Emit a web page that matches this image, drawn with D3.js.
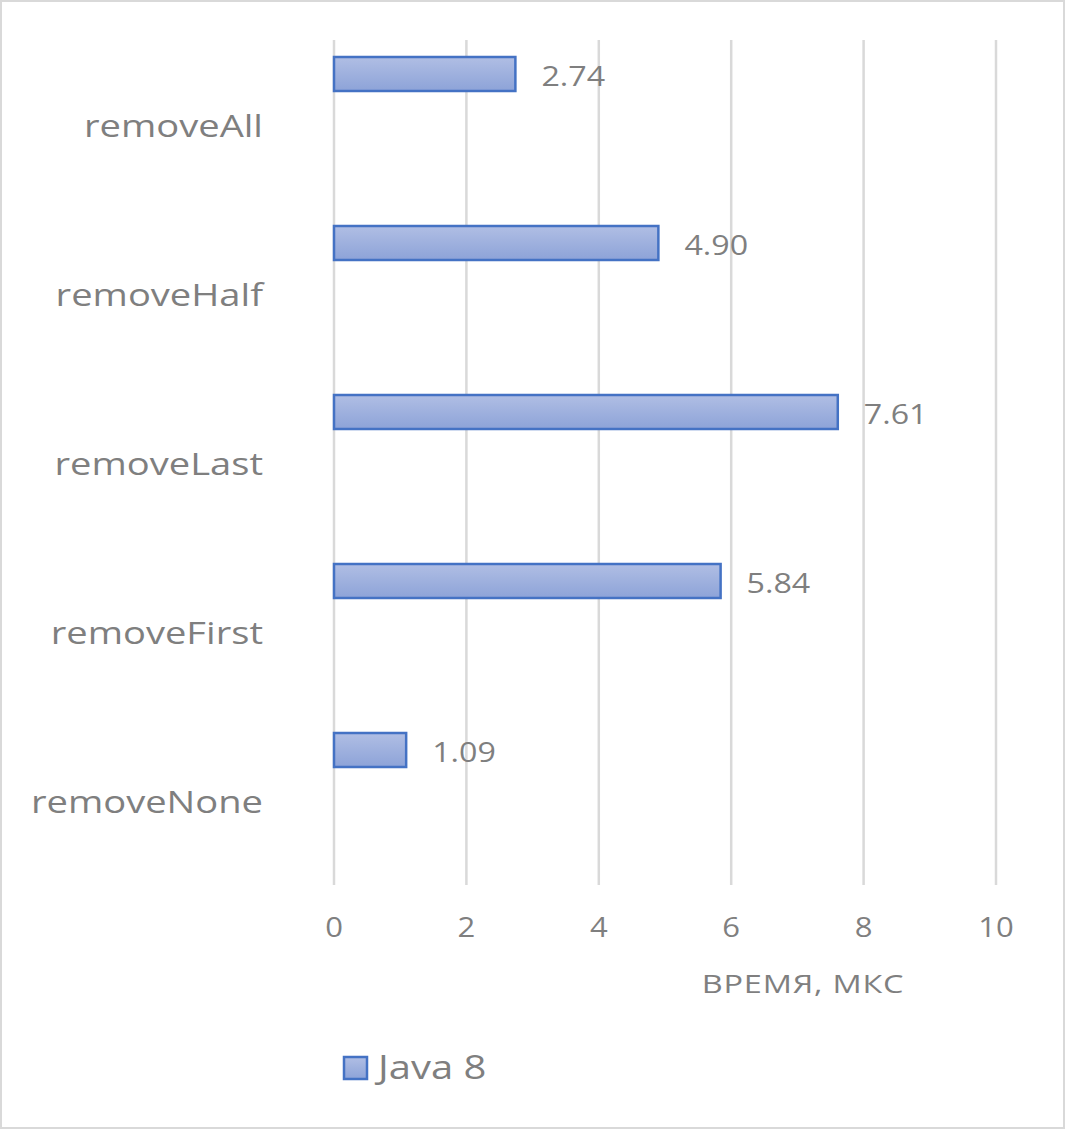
<!DOCTYPE html>
<html>
<head>
<meta charset="utf-8">
<script src="https://cdn.jsdelivr.net/npm/d3@7"></script>
<style>
  html, body { margin: 0; padding: 0; background: #fff; }
  svg { display: block; }
  text { font-family: "Open Sans", "Noto Sans", sans-serif; fill: #7f7f7f; }
</style>
</head>
<body>
<svg id="chart" width="1066" height="1130"></svg>
<script>
// Benchmark results, Java 8
const categories = ["removeAll", "removeHalf", "removeLast", "removeFirst", "removeNone"];
const timesJava8 = [2.74, 4.90, 7.61, 5.84, 1.09];
const tickValues = [0, 2, 4, 6, 8, 10];
const axisTitle = "ВРЕМЯ, МКС";
const seriesName = "Java 8";

const W = 1066, H = 1130;

const svg = d3.select("#chart");

// outer frame
svg.append("rect")
  .attr("x", 1).attr("y", 1).attr("width", W - 3).attr("height", H - 3)
  .attr("fill", "#fff").attr("stroke", "#d9d9d9").attr("stroke-width", 2);

// bar gradient
const defs = svg.append("defs");
const grad = defs.append("linearGradient").attr("id", "barFill")
  .attr("x1", 0).attr("y1", 0).attr("x2", 0).attr("y2", 1);
grad.append("stop").attr("offset", "0%").attr("stop-color", "#b0bee4");
grad.append("stop").attr("offset", "100%").attr("stop-color", "#8da3d8");

const x = d3.scaleLinear().domain([0, 10]).range([334, 996]);
const y = d3.scaleBand().domain(categories).range([40, 885]).padding(0);

// helper for horizontally stretched text
function label(g, px, py, txt, size, anchor, sx, spacing) {
  const t = g.append("g").attr("transform", `translate(${px},${py}) scale(${sx},1)`);
  t.append("text")
    .attr("text-anchor", anchor)
    .attr("dominant-baseline", "central")
    .style("font-size", size + "px")
    .style("letter-spacing", (spacing || 0) + "px")
    .text(txt);
  return t;
}

// vertical gridlines
svg.append("g").selectAll("line").data(tickValues).join("line")
  .attr("x1", d => x(d)).attr("x2", d => x(d))
  .attr("y1", 40).attr("y2", 885)
  .attr("stroke", "#d9d9d9").attr("stroke-width", 2.5);

// bars
const barOffset = 17, barH = 34;
svg.append("g").selectAll("rect").data(categories).join("rect")
  .attr("x", x(0))
  .attr("y", d => y(d) + barOffset)
  .attr("width", (d, i) => x(timesJava8[i]) - x(0))
  .attr("height", barH)
  .attr("fill", "url(#barFill)")
  .attr("stroke", "#4472c4").attr("stroke-width", 2.5);

// value labels
const valG = svg.append("g");
categories.forEach((c, i) => {
  label(valG, x(timesJava8[i]) + 26, y(c) + barOffset + barH / 2 + 1,
        timesJava8[i].toFixed(2), 28, "start", 1.15);
});

// category labels
const catG = svg.append("g");
categories.forEach(c => {
  label(catG, 263, y(c) + y.bandwidth() / 2, c, 31, "end", 1.23);
});

// x tick labels
const tickG = svg.append("g");
tickValues.forEach(v => label(tickG, x(v), 927, String(v), 27, "middle", 1.15));

// axis title
label(svg.append("g"), 803, 983, axisTitle, 25, "middle", 1.3, 0.6);

// legend
svg.append("rect")
  .attr("x", 344).attr("y", 1057).attr("width", 23).attr("height", 22)
  .attr("fill", "url(#barFill)")
  .attr("stroke", "#4472c4").attr("stroke-width", 2.5);
label(svg.append("g"), 378, 1067, seriesName, 32, "start", 1.25);
</script>
</body>
</html>
